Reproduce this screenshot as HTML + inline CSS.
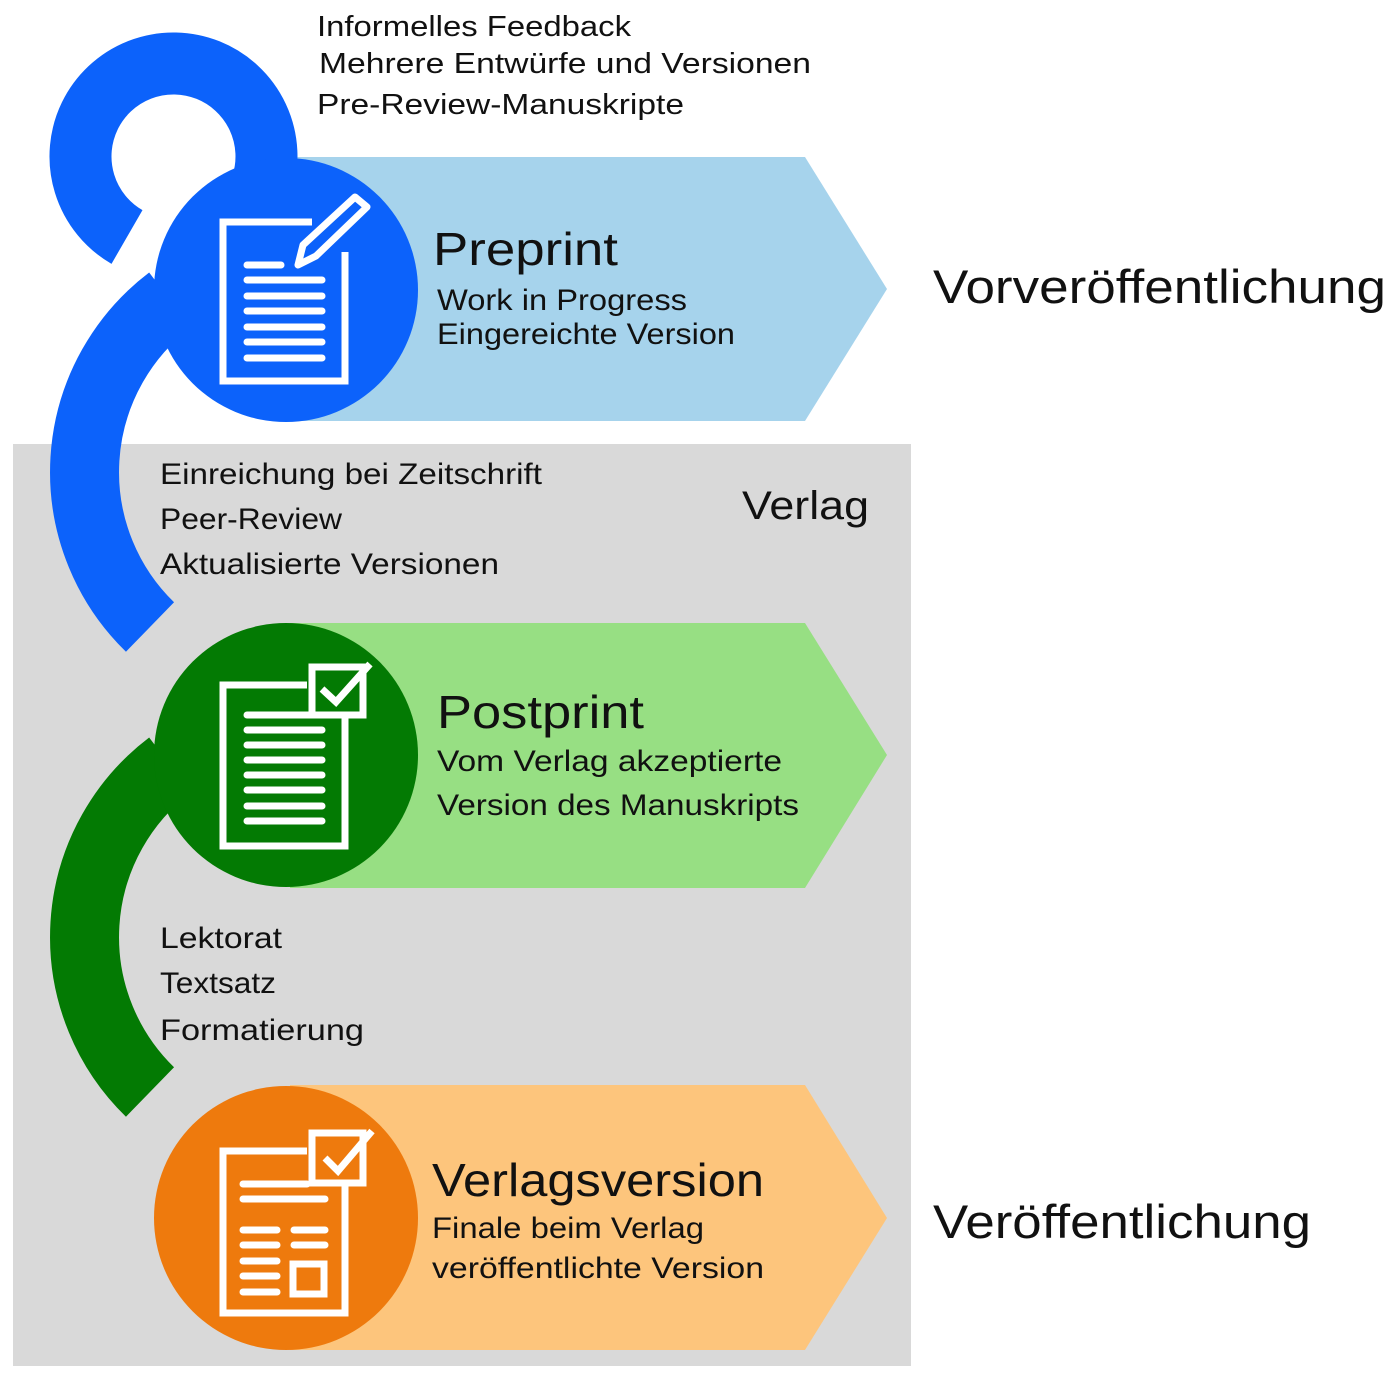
<!DOCTYPE html>
<html><head><meta charset="utf-8"><style>
html,body{margin:0;padding:0;background:#fff;}
svg{display:block;}
text{font-family:"Liberation Sans",sans-serif;fill:#111;}
</style></head><body>
<svg width="1400" height="1378" viewBox="0 0 1400 1378" xmlns="http://www.w3.org/2000/svg">
<rect x="13" y="444" width="898" height="922" fill="#d9d9d9"/>
<!-- bands -->
<polygon points="290,157 805,157 887,289 805,421 290,421" fill="#a6d3ec"/>
<polygon points="290,623 805,623 887,755 805,888 290,888" fill="#97df83"/>
<polygon points="290,1085 805,1085 887,1218 805,1350 290,1350" fill="#fdc57c"/>
<!-- blue loops -->
<path d="M 127,237 A 93 93 0 1 1 262,185" fill="none" stroke="#0c62fb" stroke-width="62"/>
<path d="M 150,627 A 216 216 0 0 1 170,300" fill="none" stroke="#0c62fb" stroke-width="69"/>
<!-- green loop -->
<path d="M 150,1092 A 216 216 0 0 1 170,765" fill="none" stroke="#037a03" stroke-width="69"/>
<!-- circles -->
<circle cx="286" cy="290" r="132" fill="#0c62fb"/>
<circle cx="286" cy="755" r="132" fill="#037a03"/>
<circle cx="286" cy="1218" r="132" fill="#ee7a0d"/>
<g fill="none" stroke="#fff" stroke-width="7" stroke-linecap="round">
  <!-- preprint doc -->
  <path d="M312,222 H223 V381 H345 V252" stroke-linecap="butt"/>
  <line x1="247" y1="265" x2="281" y2="265"/>
  <line x1="247" y1="280" x2="322" y2="280"/>
  <line x1="247" y1="296" x2="322" y2="296"/>
  <line x1="247" y1="311" x2="322" y2="311"/>
  <line x1="247" y1="327" x2="322" y2="327"/>
  <line x1="247" y1="342" x2="322" y2="342"/>
  <line x1="247" y1="358" x2="322" y2="358"/>
  <polygon points="298,265 303,245 355,197 367,207 316,256" stroke-linejoin="round"/>
  <!-- postprint doc -->
  <path d="M307,685 H223 V846 H345 V718" stroke-linecap="butt"/>
  <rect x="312" y="667" width="51" height="48" stroke-linecap="butt"/>
  <polyline points="322,689 336,702 370,664" stroke-linecap="butt"/>
  <line x1="247" y1="715" x2="322" y2="715"/>
  <line x1="247" y1="730" x2="322" y2="730"/>
  <line x1="247" y1="745" x2="322" y2="745"/>
  <line x1="247" y1="760" x2="322" y2="760"/>
  <line x1="247" y1="775" x2="322" y2="775"/>
  <line x1="247" y1="790" x2="322" y2="790"/>
  <line x1="247" y1="806" x2="322" y2="806"/>
  <line x1="247" y1="821" x2="322" y2="821"/>
  <!-- verlagsversion doc -->
  <path d="M307,1151 H223 V1313 H345 V1185" stroke-linecap="butt"/>
  <rect x="312" y="1133" width="51" height="50" stroke-linecap="butt"/>
  <polyline points="325,1158 338,1171 372,1131" stroke-linecap="butt"/>
  <line x1="243" y1="1184" x2="307" y2="1184"/>
  <line x1="243" y1="1199" x2="325" y2="1199"/>
  <line x1="243" y1="1230" x2="277" y2="1230"/>
  <line x1="243" y1="1245" x2="277" y2="1245"/>
  <line x1="243" y1="1261" x2="277" y2="1261"/>
  <line x1="243" y1="1276" x2="277" y2="1276"/>
  <line x1="243" y1="1292" x2="277" y2="1292"/>
  <line x1="294" y1="1230" x2="325" y2="1230"/>
  <line x1="294" y1="1245" x2="325" y2="1245"/>
  <rect x="293" y="1264" width="31" height="30" stroke-linecap="butt"/>
</g>
<!-- texts -->
<g font-size="29">
<text x="317" y="36" textLength="314" lengthAdjust="spacingAndGlyphs">Informelles Feedback</text>
<text x="319" y="73" textLength="492" lengthAdjust="spacingAndGlyphs">Mehrere Entwürfe und Versionen</text>
<text x="317" y="114" textLength="367" lengthAdjust="spacingAndGlyphs">Pre-Review-Manuskripte</text>
</g>
<text x="433" y="265" font-size="46" textLength="185" lengthAdjust="spacingAndGlyphs">Preprint</text>
<text x="437" y="310" font-size="30" textLength="250" lengthAdjust="spacingAndGlyphs">Work in Progress</text>
<text x="437" y="344" font-size="30" textLength="298" lengthAdjust="spacingAndGlyphs">Eingereichte Version</text>
<text x="933" y="303" font-size="47" textLength="453" lengthAdjust="spacingAndGlyphs">Vorveröffentlichung</text>
<text x="742" y="519" font-size="40" textLength="127" lengthAdjust="spacingAndGlyphs">Verlag</text>
<g font-size="30">
<text x="160" y="484" textLength="382" lengthAdjust="spacingAndGlyphs">Einreichung bei Zeitschrift</text>
<text x="160" y="529" textLength="182" lengthAdjust="spacingAndGlyphs">Peer-Review</text>
<text x="160" y="574" textLength="339" lengthAdjust="spacingAndGlyphs">Aktualisierte Versionen</text>
<text x="160" y="948" textLength="122" lengthAdjust="spacingAndGlyphs">Lektorat</text>
<text x="160" y="993" textLength="116" lengthAdjust="spacingAndGlyphs">Textsatz</text>
<text x="160" y="1040" textLength="204" lengthAdjust="spacingAndGlyphs">Formatierung</text>
</g>
<text x="437" y="728" font-size="46" textLength="207" lengthAdjust="spacingAndGlyphs">Postprint</text>
<text x="437" y="771" font-size="30" textLength="345" lengthAdjust="spacingAndGlyphs">Vom Verlag akzeptierte</text>
<text x="437" y="815" font-size="30" textLength="362" lengthAdjust="spacingAndGlyphs">Version des Manuskripts</text>
<text x="432" y="1196" font-size="46" textLength="332" lengthAdjust="spacingAndGlyphs">Verlagsversion</text>
<text x="432" y="1238" font-size="30" textLength="272" lengthAdjust="spacingAndGlyphs">Finale beim Verlag</text>
<text x="432" y="1278" font-size="30" textLength="332" lengthAdjust="spacingAndGlyphs">veröffentlichte Version</text>
<text x="933" y="1238" font-size="47" textLength="378" lengthAdjust="spacingAndGlyphs">Veröffentlichung</text>
</svg>
</body></html>
